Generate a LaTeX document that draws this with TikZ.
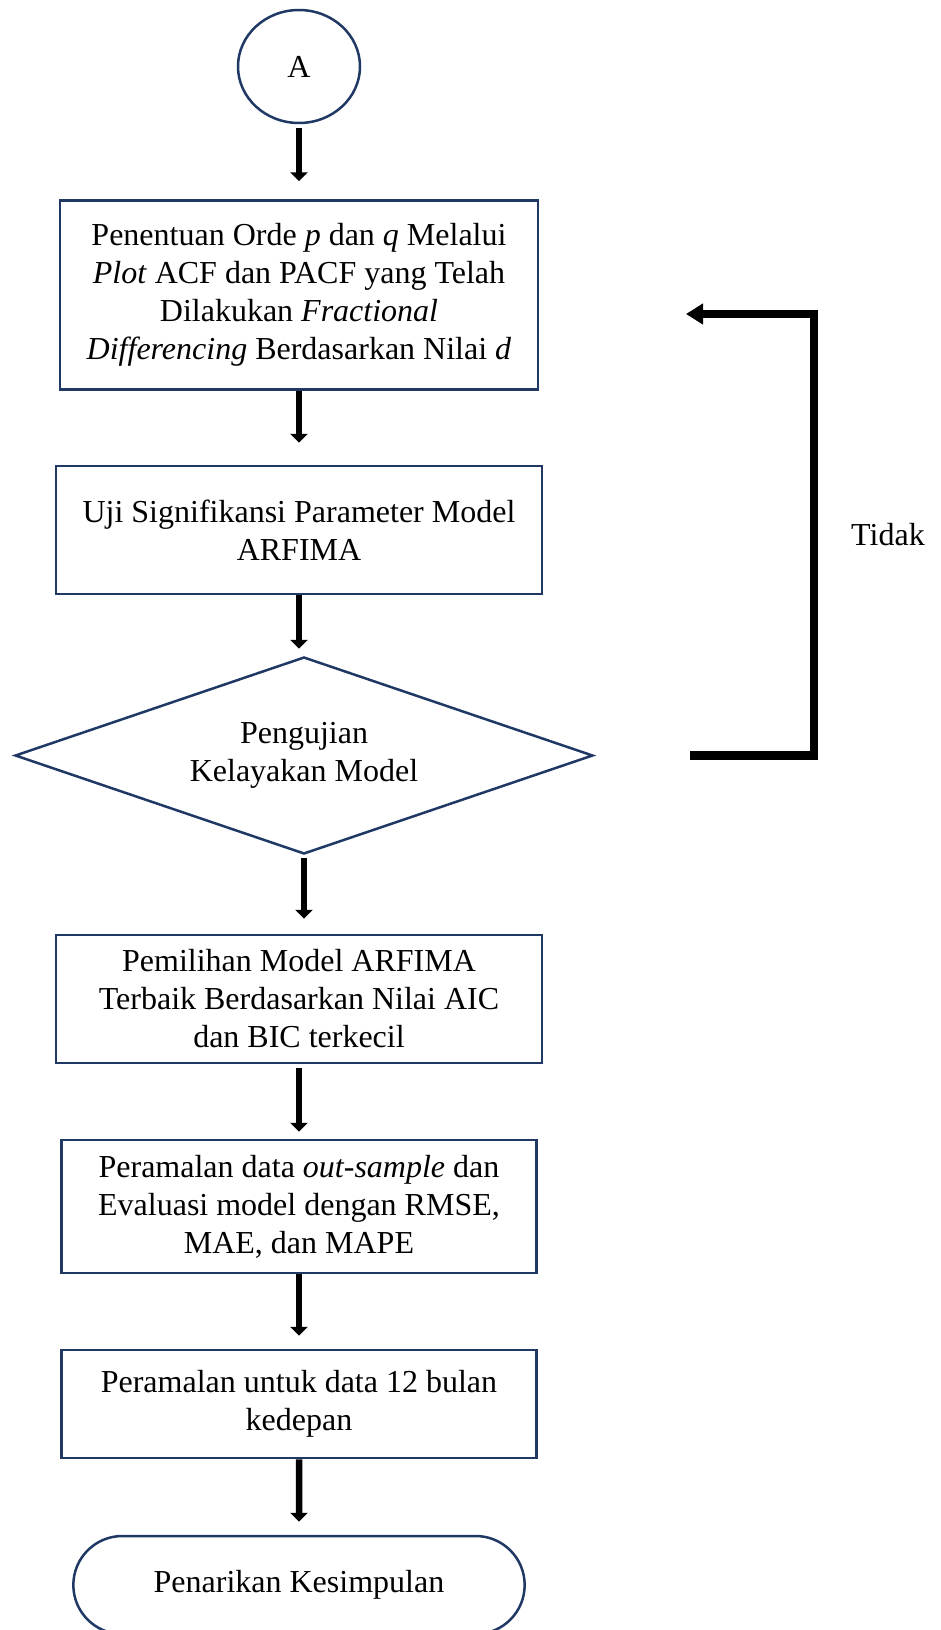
\documentclass[tikz,border=0pt]{standalone}
\usepackage{fontspec}
\setmainfont{Liberation Serif}
\usetikzlibrary{arrows.meta,shapes.geometric,shapes.misc}
\definecolor{navy}{HTML}{1F3864}

\begin{document}
\begin{tikzpicture}[every node/.style={font=\fontsize{32}{38}\selectfont},
    proc/.style={draw=navy, line width=2.5pt, rectangle, align=center},
    flowarrow/.style={line width=6.5pt, >={Triangle[width=17pt,length=9pt]}},
    backline/.style={line width=8.5pt, >={Triangle[width=20pt,length=17pt]}}]
        \useasboundingbox (-299pt,66.5pt) rectangle (641pt,-1563.5pt);
        \node[draw=navy, line width=2.5pt, ellipse, minimum width=122pt,
        minimum height=113pt] (A) {A};
        \node[proc, below of=A, minimum width=478pt, minimum height=189pt,
        node distance=228.5pt] (P1)
        {Penentuan Orde \textit{p} dan \textit{q} Melalui\\
        \textit{Plot} ACF dan PACF yang Telah\\
        Dilakukan \textit{Fractional}\\
        \textit{Differencing} Berdasarkan Nilai \textit{d}};
        \node[proc, below of=P1, minimum width=486pt, minimum height=128pt,
        node distance=235pt] (P2)
        {Uji Signifikansi Parameter Model\\ ARFIMA};
        \node[draw=navy, line width=2.5pt, diamond, aspect=2.9, inner sep=0pt,
        align=center, below of=P2, minimum width=578pt, minimum height=197pt,
        node distance=225.5pt, xshift=5pt] (D)
        {Pengujian\\ Kelayakan Model};
        \node[proc, below of=D, minimum width=486pt, minimum height=128pt,
        node distance=243.5pt, xshift=-5pt] (P3)
        {Pemilihan Model ARFIMA\\ Terbaik Berdasarkan Nilai AIC\\
        dan BIC terkecil};
        \node[proc, below of=P3, minimum width=475pt, minimum height=133pt,
        node distance=207.5pt] (P4)
        {Peramalan data \textit{out-sample} dan\\
        Evaluasi model dengan RMSE,\\ MAE, dan MAPE};
        \node[proc, below of=P4, minimum width=475pt, minimum height=108pt,
        node distance=197.5pt] (P5)
        {Peramalan untuk data 12 bulan\\ kedepan};
        \node[draw=navy, line width=2.5pt, rounded rectangle, below of=P5,
        minimum width=458pt, minimum height=98pt, node distance=181pt] (K)
        {Penarikan Kesimpulan};
        \draw[flowarrow, ->, shorten <=4pt, shorten >=18pt] (A) -- (P1);
        \draw[flowarrow, ->, shorten >=22pt] (P1) -- (P2);
        \draw[flowarrow, ->, shorten >=7pt] (P2) -- (P2 |- D.north);
        \draw[flowarrow, ->, shorten <=3pt, shorten >=15pt] (D) -- (D |- P3.north);
        \draw[flowarrow, ->, shorten <=4pt, shorten >=7pt] (P3) -- (P4);
        \draw[flowarrow, ->, shorten >=13pt] (P4) -- (P5);
        \draw[flowarrow, ->, shorten >=13pt] (P5) -- (K);
        \coordinate[right of=D, node distance=386pt] (loopS);
        \coordinate[right of=P1, node distance=387pt, yshift=-19pt] (loopE);
        \coordinate[right of=loopE, node distance=128pt] (loopX);
        \draw[backline, ->] (loopS) -| (loopX) -- (loopE);
        \node[right of=P2, node distance=589pt, yshift=-5pt] (tidak) {Tidak};
    \end{tikzpicture}
\end{document}
